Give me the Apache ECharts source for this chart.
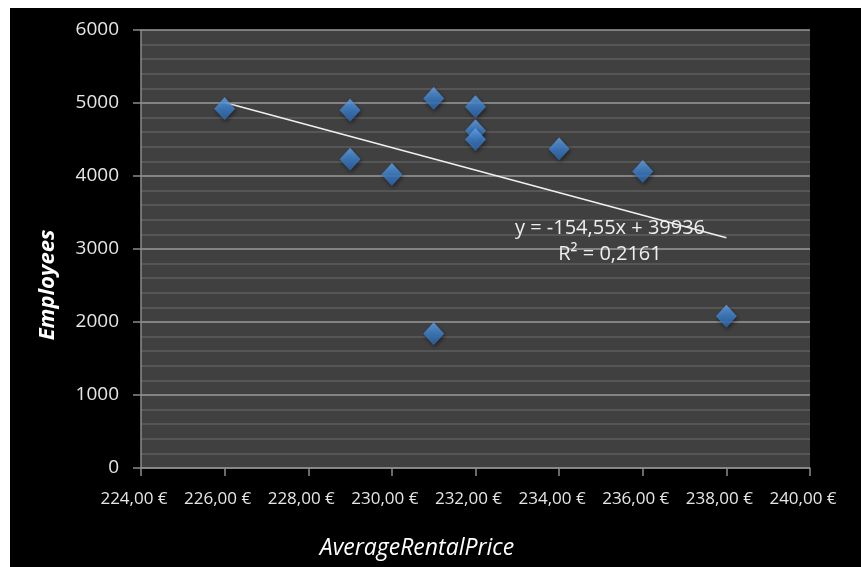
<!DOCTYPE html>
<html>
<head>
<meta charset="utf-8">
<script src="https://cdn.jsdelivr.net/npm/echarts@6/dist/echarts.min.js"></script>
<style>
html,body{margin:0;padding:0;background:#fff;width:861px;height:567px;overflow:hidden;}
#c{position:absolute;left:10px;top:8px;width:851px;height:559px;background:#000;}
</style>
</head>
<body>
<div id="c"></div>
<script>
const rentalPrice = [226, 229, 229, 230, 231, 231, 232, 232, 232, 234, 236, 238];
const employees   = [4920, 4900, 4230, 4020, 5060, 1840, 4950, 4620, 4500, 4370, 4060, 2080];
const trendSlope = -154.55;
const trendIntercept = 39936;
const trendRange = [226, 238];
const equationText = 'y = -154,55x + 39936';
const r2Text = 'R² = 0,2161';
const xTitle = 'AverageRentalPrice';
const yTitle = 'Employees';

const FONT = '"Open Sans", sans-serif';
const chart = echarts.init(document.getElementById('c'), null, {renderer: 'canvas'});
const points = rentalPrice.map((x, i) => [x, employees[i]]);
const trend = trendRange.map(x => [x, trendSlope * x + trendIntercept]);

chart.setOption({
  backgroundColor: '#000',
  animation: false,
  grid: {left: 131, top: 22, right: 51, bottom: 99, show: true, backgroundColor: '#404040', borderWidth: 0},
  xAxis: {
    type: 'value', min: 224, max: 240, interval: 2,
    axisLine: {show: true, onZero: false, lineStyle: {color: '#8c8c8c', width: 1.5}},
    axisTick: {show: true, length: 8, lineStyle: {color: '#8c8c8c', width: 1.5}},
    splitLine: {show: false},
    axisLabel: {color: '#e6e6e6', fontSize: 17, fontFamily: FONT, margin: 23, padding: [0, 14, 0, 0],
      formatter: v => v.toFixed(2).replace('.', ',') + ' €'}
  },
  yAxis: {
    type: 'value', min: 0, max: 6000, interval: 1000,
    axisLine: {show: true, lineStyle: {color: '#8c8c8c', width: 1.5}},
    axisTick: {show: true, length: 8, lineStyle: {color: '#8c8c8c', width: 1.5}},
    splitLine: {show: true, lineStyle: {color: '#9a9a9a', width: 1.5}},
    minorTick: {show: false, splitNumber: 5},
    minorSplitLine: {show: true, lineStyle: {color: '#5e5e5e', width: 1.5}},
    axisLabel: {color: '#e6e6e6', fontSize: 19, fontFamily: FONT, margin: 22,
      formatter: v => String(v)}
  },
  series: [
    {
      type: 'line', data: trend, symbol: 'none', silent: true,
      lineStyle: {color: '#f0f0f0', width: 1.5}, z: 2
    },
    {
      type: 'scatter', data: points, symbol: 'diamond', symbolSize: [21, 23], z: 3,
      itemStyle: {
        color: new echarts.graphic.LinearGradient(0, 0, 0, 1, [
          {offset: 0, color: '#66a6ee'},
          {offset: 0.5, color: '#3f84d2'},
          {offset: 1, color: '#2c66ae'}
        ]),
        shadowColor: 'rgba(0,0,0,0.6)', shadowBlur: 4, shadowOffsetX: 1, shadowOffsetY: 2
      }
    }
  ],
  graphic: [
    {type: 'text', x: 600, y: 220, style: {text: equationText, fill: '#eeeeee', font: '20px ' + FONT, textAlign: 'center', textVerticalAlign: 'middle'}, z: 10},
    {type: 'text', x: 600, y: 246, style: {text: r2Text, fill: '#eeeeee', font: '20px ' + FONT, textAlign: 'center', textVerticalAlign: 'middle'}, z: 10},
    {type: 'text', x: 407, y: 540, style: {text: xTitle, fill: '#ffffff', font: 'italic 23px ' + FONT, textAlign: 'center', textVerticalAlign: 'middle'}, z: 10},
    {type: 'text', x: 38, y: 277, rotation: Math.PI / 2, style: {text: yTitle, fill: '#ffffff', font: 'italic bold 22px ' + FONT, textAlign: 'center', textVerticalAlign: 'middle'}, z: 10}
  ]
});
</script>
</body>
</html>
